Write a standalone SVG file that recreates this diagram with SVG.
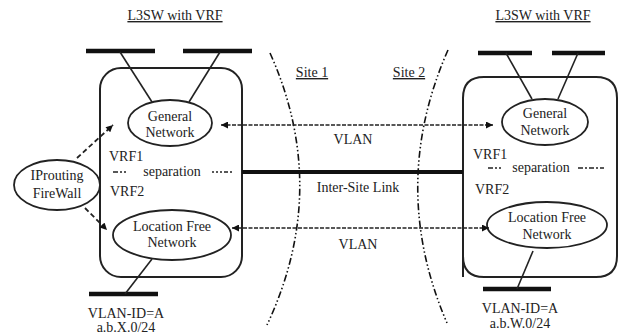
<svg xmlns="http://www.w3.org/2000/svg" width="621" height="336" viewBox="0 0 621 336">
  <style>
    text { font-family: "Liberation Serif", "Times New Roman", serif; font-size: 14px; fill: #222; }
    .mid { text-anchor: middle; }
    .ul { text-decoration: underline; }
    .box { fill: none; stroke: #222; stroke-width: 2; }
    .node { fill: #fff; stroke: #222; stroke-width: 1.8; }
    .bar { stroke: #111; stroke-width: 4.5; }
    .wire { stroke: #222; stroke-width: 1.6; fill: none; }
    .vlan { stroke: #222; stroke-width: 1.6; stroke-dasharray: 4 1.5; fill: none; }
    .ctl { stroke: #222; stroke-width: 1.8; stroke-dasharray: 5 3; fill: none; }
    .site { stroke: #111; stroke-width: 1.6; stroke-dasharray: 7 2.5 1.5 2.5 1.5 2.5; fill: none; }
    .sep { stroke: #222; stroke-width: 1.6; fill: none; }
  </style>
  <defs>
    <marker id="arrow" viewBox="0 0 10 10" refX="10" refY="5" markerWidth="9" markerHeight="7" markerUnits="userSpaceOnUse" orient="auto-start-reverse">
      <path d="M0,0 L10,5 L0,10 z" fill="#111"/>
    </marker>
  </defs>

  <!-- site boundaries -->
  <g id="site-boundaries">
    <path class="site" d="M270,53 Q331,189 267,325"/>
    <path class="site" d="M448,50 Q388,186 447,323"/>
    <text x="312" y="77" class="mid ul">Site 1</text>
    <text x="409" y="77" class="mid ul">Site 2</text>
  </g>

  <!-- left switch -->
  <g id="l3sw-left">
    <text x="175" y="20" class="mid ul">L3SW with  VRF</text>
    <rect class="box" x="100" y="68" width="142" height="209" rx="21"/>
    <line class="bar" x1="86" y1="51" x2="155" y2="51"/>
    <line class="bar" x1="183" y1="51" x2="252" y2="51"/>
    <line class="wire" x1="120" y1="52" x2="152" y2="102"/>
    <line class="wire" x1="220" y1="52" x2="189" y2="102"/>
    <text x="109" y="161">VRF1</text>
    <text x="172" y="176" class="mid">separation</text>
    <path class="sep" d="M113,172 h5 M120,172 h2 M124,172 h2"/>
    <path class="sep" d="M212,172 h2 M216,172 h2 M220,172 h2 M224,172 h4 M230,172 h2"/>
    <text x="110" y="196">VRF2</text>
    <line class="bar" x1="89" y1="294" x2="158" y2="294"/>
    <line class="wire" x1="152" y1="259" x2="125" y2="294"/>
    <text x="126" y="318" class="mid">VLAN-ID=A</text>
    <text x="126" y="332" class="mid">a.b.X.0/24</text>
  </g>
  <g id="general-left">
    <ellipse class="node" cx="170" cy="123" rx="42" ry="23"/>
    <text x="170" y="121" class="mid">General</text>
    <text x="170" y="137" class="mid">Network</text>
  </g>
  <g id="locfree-left">
    <ellipse class="node" cx="172" cy="235" rx="59" ry="25"/>
    <text x="172" y="231" class="mid">Location Free</text>
    <text x="172" y="247" class="mid">Network</text>
  </g>
  <g id="iprouting">
    <ellipse class="node" cx="57" cy="185" rx="43" ry="25"/>
    <text x="57" y="180" class="mid">IProuting</text>
    <text x="57" y="198" class="mid">FireWall</text>
  </g>

  <!-- right switch -->
  <g id="l3sw-right">
    <text x="543" y="20" class="mid ul">L3SW with  VRF</text>
    <path class="box" d="M463,277 V98 Q463,77 484,77 H596 Q617,77 617,98 V256 Q617,277 596,277 H484 Q463,277 463,256 Z"/>
    <line class="bar" x1="478" y1="53" x2="532" y2="53"/>
    <line class="bar" x1="552" y1="53" x2="605" y2="53"/>
    <line class="wire" x1="506" y1="53" x2="532" y2="99"/>
    <line class="wire" x1="578" y1="53" x2="558" y2="99"/>
    <text x="473" y="159">VRF1</text>
    <text x="541" y="172" class="mid">separation</text>
    <path class="sep" d="M488,168 h5 M495,168 h2 M499,168 h2"/>
    <path class="sep" d="M578,168 h5 M585,168 h2 M589,168 h5 M596,168 h2 M600,168 h4"/>
    <text x="475" y="194">VRF2</text>
    <line class="bar" x1="483" y1="289" x2="551" y2="289"/>
    <line class="wire" x1="533" y1="251" x2="517" y2="289"/>
    <text x="520" y="313" class="mid">VLAN-ID=A</text>
    <text x="520" y="328" class="mid">a.b.W.0/24</text>
  </g>
  <g id="general-right">
    <ellipse class="node" cx="545" cy="122" rx="43" ry="23"/>
    <text x="545" y="118" class="mid">General</text>
    <text x="545" y="135" class="mid">Network</text>
  </g>
  <g id="locfree-right">
    <ellipse class="node" cx="547" cy="225" rx="60" ry="23"/>
    <text x="547" y="222" class="mid">Location Free</text>
    <text x="547" y="239" class="mid">Network</text>
  </g>

  <!-- connectors -->
  <g id="connectors">
    <line class="vlan" x1="221" y1="125" x2="493" y2="125" marker-start="url(#arrow)" marker-end="url(#arrow)"/>
    <text x="353" y="144" class="mid">VLAN</text>
    <line x1="242" y1="172" x2="463" y2="172" stroke="#111" stroke-width="4"/>
    <text x="358" y="192" class="mid">Inter-Site Link</text>
    <line class="vlan" x1="232" y1="228" x2="489" y2="228" marker-start="url(#arrow)" marker-end="url(#arrow)"/>
    <text x="358" y="249" class="mid">VLAN</text>
    <line class="ctl" x1="77" y1="158" x2="113" y2="125" marker-end="url(#arrow)"/>
    <line class="ctl" x1="85" y1="208" x2="107" y2="230" marker-end="url(#arrow)"/>
  </g>
</svg>
